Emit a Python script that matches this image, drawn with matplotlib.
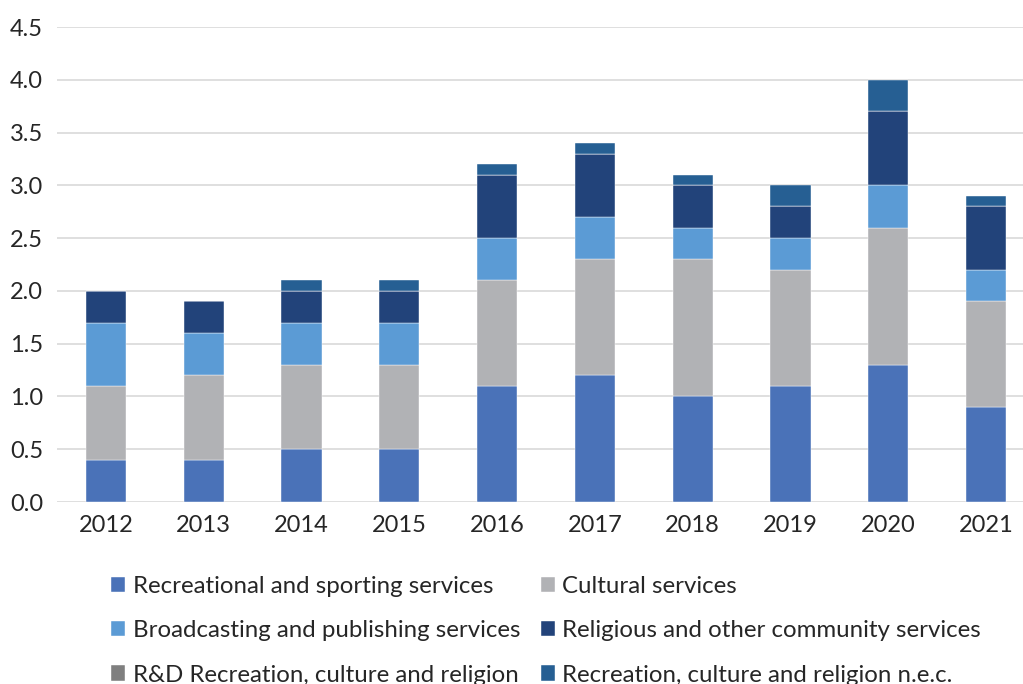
import matplotlib.pyplot as plt
import numpy as np

plt.rcParams['font.family'] = ['Lato', 'DejaVu Sans']

years = ['2012', '2013', '2014', '2015', '2016', '2017', '2018', '2019', '2020', '2021']
recreational = [0.4, 0.4, 0.5, 0.5, 1.1, 1.2, 1.0, 1.1, 1.3, 0.9]
cultural = [0.7, 0.8, 0.8, 0.8, 1.0, 1.1, 1.3, 1.1, 1.3, 1.0]
broadcasting = [0.6, 0.4, 0.4, 0.4, 0.4, 0.4, 0.3, 0.3, 0.4, 0.3]
religious = [0.3, 0.3, 0.3, 0.3, 0.6, 0.6, 0.4, 0.3, 0.7, 0.6]
rnd = [0, 0, 0, 0, 0, 0, 0, 0, 0, 0]
nec = [0.0, 0.0, 0.1, 0.1, 0.1, 0.1, 0.1, 0.2, 0.3, 0.1]

series = [
    ('Recreational and sporting services', recreational, '#4a72b8'),
    ('Cultural services', cultural, '#b1b2b5'),
    ('Broadcasting and publishing services', broadcasting, '#5b9bd5'),
    ('Religious and other community services', religious, '#22437a'),
    ('R&D Recreation, culture and religion', rnd, '#7f7f7f'),
    ('Recreation, culture and religion n.e.c.', nec, '#265f93'),
]

fig = plt.figure(figsize=(10.23, 6.84), dpi=100)
ax = fig.add_axes([57 / 1023, 0.266, 978 / 1023, 0.6945])

x = np.arange(len(years))
bottom = np.zeros(len(years))
handles = []
for name, vals, col in series:
    vals = np.array(vals, dtype=float)
    b = ax.bar(x, vals, 0.41, bottom=bottom, color=col, label=name,
               edgecolor='white', linewidth=0.3, zorder=3)
    handles.append(b)
    bottom += vals

ax.set_xlim(-0.5, 9.5)
ax.set_ylim(0, 4.5)
ax.set_yticks(np.arange(0, 4.51, 0.5))
ax.set_yticklabels([f'{v:.1f}' for v in np.arange(0, 4.51, 0.5)])
ax.set_xticks(x)
ax.set_xticklabels(years)
ax.grid(axis='y', color='#d9d9d9', linewidth=1.2, zorder=0)
for s in ax.spines.values():
    s.set_visible(False)
ax.tick_params(axis='both', length=0, labelsize=17, colors='#262626')
ax.tick_params(axis='y', pad=10)
ax.tick_params(axis='x', pad=9)

# legend filled row by row: two columns
order = [0, 2, 4, 1, 3, 5]
fig.legend(handles=[handles[i] for i in order], loc='upper left',
           bbox_to_anchor=(111 / 1023, 0.158), borderpad=0, borderaxespad=0,
           ncol=2, frameon=False, fontsize=17.3, handlelength=0.6, handleheight=0.6,
           handletextpad=0.3, columnspacing=0.85, labelspacing=0.97,
           labelcolor='#262626')

fig.savefig('out.png', dpi=100)
